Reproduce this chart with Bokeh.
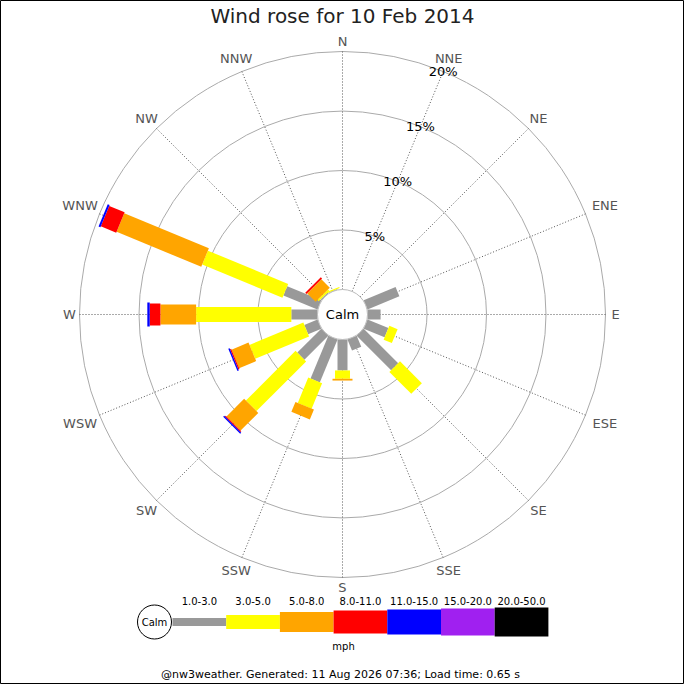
import numpy as np
from bokeh.plotting import figure
from bokeh.models import Range1d
from bokeh.embed import file_html
from bokeh.resources import INLINE
from bokeh.core.properties import value

FONT = value("DejaVu Sans")

title = "Wind rose for 10 Feb 2014"
footer = "@nw3weather. Generated: 11 Aug 2026 07:36; Load time: 0.65 s"

directions = ["N", "NNE", "NE", "ENE", "E", "ESE", "SE", "SSE",
              "S", "SSW", "SW", "WSW", "W", "WNW", "NW", "NNW"]
speed_bins = ["1.0-3.0", "3.0-5.0", "5.0-8.0", "8.0-11.0", "11.0-15.0", "15.0-20.0", "20.0-50.0"]
bin_colors = ["#999999", "#ffff00", "#ffa500", "#ff0000", "#0000ff", "#a020f0", "#000000"]

# % of the day per direction, one list per speed bin (mph)
pct_1_3   = [0, 0, 0, 2.9, 1.1, 1.9, 4.1, 1.0, 2.6, 3.9, 2.85, 1.2, 2.2, 3.1, 0.1, 0.05]
pct_3_5   = [0, 0, 0, 0, 0, 0.75, 2.6, 0, 0.7, 2.3, 5.9, 4.9, 8.0, 7.3, 0.15, 0.1]
pct_5_8   = [0, 0, 0, 0, 0, 0, 0, 0, 0.15, 0.9, 2.1, 1.55, 3.0, 7.7, 1.0, 0]
pct_8_11  = [0, 0, 0, 0, 0, 0, 0, 0, 0, 0, 0.1, 0.1, 0.9, 1.4, 0.15, 0]
pct_11_15 = [0, 0, 0, 0, 0, 0, 0, 0, 0, 0, 0.12, 0.12, 0.2, 0.17, 0, 0]
pct_15_20 = [0, 0, 0, 0, 0, 0, 0, 0, 0, 0, 0, 0, 0, 0, 0, 0]
pct_20_50 = [0, 0, 0, 0, 0, 0, 0, 0, 0, 0, 0, 0, 0, 0, 0, 0]
ring_pcts = [5, 10, 15, 20]

series = [pct_1_3, pct_3_5, pct_5_8, pct_8_11, pct_11_15, pct_15_20, pct_20_50]
bar_widths = [10, 15, 20, 22, 24, 26, 28]
legend_widths = [8, 14, 20, 23, 25, 27, 29]

R0, K = 25, 11.9  # calm circle radius, px per percent

p = figure(width=684, height=684, x_range=Range1d(-342, 342), y_range=Range1d(-370, 314),
           output_backend="svg", toolbar_location=None, min_border=0,
           x_axis_location=None, y_axis_location=None)
p.grid.visible = False
p.outline_line_color = "black"
p.background_fill_color = "white"

theta = np.deg2rad(np.arange(len(directions)) * 22.5)
sx, sy = np.sin(theta), np.cos(theta)
r_out = R0 + K * ring_pcts[-1]

# rings + spokes
ring_r = [R0 + K * v for v in ring_pcts]
p.circle(x=[0] * len(ring_r), y=[0] * len(ring_r), radius=ring_r,
         fill_color=None, line_color="#aaaaaa", line_width=1)
p.segment(x0=R0 * sx, y0=R0 * sy, x1=r_out * sx, y1=r_out * sy,
          line_color="#555555", line_width=1, line_dash="1 2")

# stacked bars
cum = np.zeros(len(directions))
for vals, col, w in zip(series, bin_colors, bar_widths):
    v = np.array(vals, dtype=float)
    m = v > 0
    r0 = R0 + K * cum
    r1 = R0 + K * (cum + v)
    if m.any():
        p.segment(x0=(r0 * sx)[m], y0=(r0 * sy)[m], x1=(r1 * sx)[m], y1=(r1 * sy)[m],
                  line_color=col, line_width=w, line_cap="butt")
    cum = cum + v

# calm circle
p.circle(x=[0], y=[0], radius=R0, fill_color="white", line_color="#bbbbbb", line_width=1)
p.text(x=[0], y=[0], text=["Calm"], text_font=FONT, text_font_size="13px",
       text_align="center", text_baseline="middle", text_color="black")

# compass labels
lens = np.array([len(d) for d in directions])
lr = 273 + 6 * (lens - 1) * np.abs(sx)
p.text(x=lr * sx, y=lr * sy, text=directions, text_font=FONT, text_font_size="13px",
       text_align="center", text_baseline="middle", text_color="#555555")

# percent labels along NNE
a = np.deg2rad(22.5)
p.text(x=[r * np.sin(a) for r in ring_r], y=[r * np.cos(a) for r in ring_r],
       text=[f"{v}%" for v in ring_pcts], text_font=FONT, text_font_size="13px",
       text_align="center", text_baseline="middle", text_color="black")

# title
p.text(x=[0], y=[299], text=[title], text_font=FONT, text_font_size="20px",
       text_align="center", text_baseline="middle", text_color="#222222")

# legend
ly = -307.5
lx0, lstep = -170, 53.7
lx = [lx0 + i * lstep for i in range(len(speed_bins))]
for i, (col, w) in enumerate(zip(bin_colors, legend_widths)):
    p.segment(x0=[lx[i]], y0=[ly], x1=[lx[i] + lstep], y1=[ly],
              line_color=col, line_width=w, line_cap="butt")
p.text(x=[x + lstep / 2 for x in lx], y=[-286] * len(lx), text=speed_bins,
       text_font=FONT, text_font_size="10px", text_align="center",
       text_baseline="middle", text_color="black")
p.circle(x=[-188], y=[ly], radius=17, fill_color="white", line_color="black", line_width=1)
p.text(x=[-188], y=[ly], text=["Calm"], text_font=FONT, text_font_size="10px",
       text_align="center", text_baseline="middle", text_color="black")
p.text(x=[1], y=[-332], text=["mph"], text_font=FONT, text_font_size="10px",
       text_align="center", text_baseline="middle", text_color="black")

# footer
p.text(x=[-2], y=[-360], text=[footer], text_font=FONT, text_font_size="11px",
       text_align="center", text_baseline="middle", text_color="black")

open("out.html", "w").write(file_html(p, INLINE))
